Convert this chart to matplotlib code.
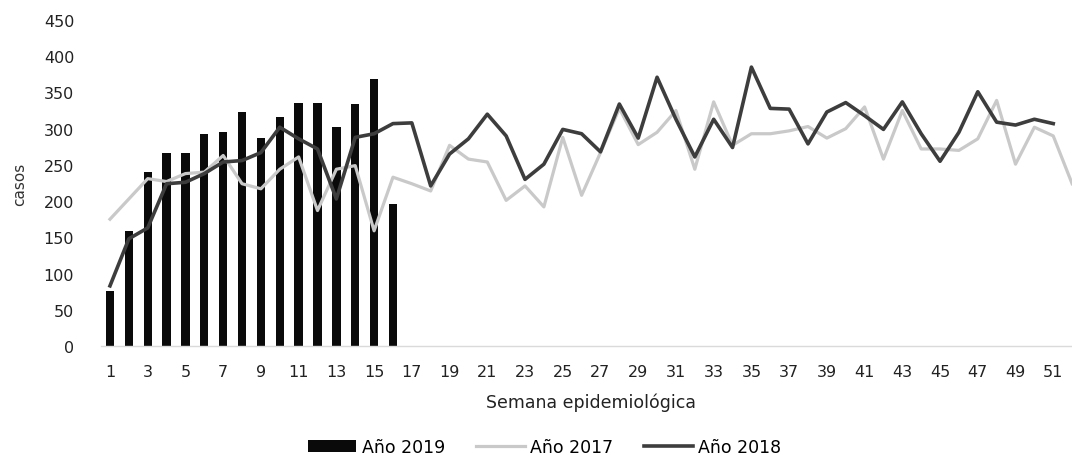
import numpy as np
import matplotlib
matplotlib.use("Agg")
import matplotlib.pyplot as plt

# semanas epidemiologicas
semanas_2019 = np.arange(1, 17)
semanas_2017 = np.arange(1, 53)
semanas_2018 = np.arange(1, 52)

casos_2019 = [76, 159, 240, 266, 266, 292, 296, 323, 287, 316, 336, 335, 303, 334, 368, 196]

casos_2017 = [175, 203, 231, 227, 238, 240, 263, 224, 217, 244, 261, 187, 244, 249, 159, 233,
              224, 214, 277, 258, 254, 201, 221, 192, 288, 208, 267, 328, 278, 295, 325, 244,
              337, 277, 293, 293, 297, 303, 287, 300, 330, 258, 325, 272, 272, 270, 286, 339,
              251, 302, 290, 224]

casos_2018 = [83, 148, 163, 224, 226, 238, 254, 256, 267, 302, 286, 272, 203, 288, 293, 307,
              308, 221, 265, 286, 320, 290, 230, 251, 299, 293, 268, 334, 287, 371, 313, 261,
              313, 274, 385, 328, 327, 279, 323, 336, 318, 299, 337, 293, 255, 295, 351, 309,
              305, 313, 307]

etiquetas_x = [str(s) for s in range(1, 52, 2)]

plt.rcParams['font.family'] = ['DejaVu Sans']

fig = plt.figure(figsize=(10.72, 4.60), dpi=100)
ax = fig.add_axes([0.0938, 0.2457, 0.9151, 0.7086])

barras = ax.bar(semanas_2019, casos_2019, width=0.44, color='#0a0a0a', label='Año 2019', zorder=1)
l17, = ax.plot(semanas_2017, casos_2017, color='#c9c9c9', lw=2.3, label='Año 2017', zorder=2)
l18, = ax.plot(semanas_2018, casos_2018, color='#3d3d3d', lw=2.6, label='Año 2018', zorder=3)

ax.set_xlim(0.5, 52.5)
ax.set_ylim(0, 450)
ax.set_yticks(range(0, 451, 50))
ax.set_xticks(range(1, 52, 2))
ax.set_xticklabels(etiquetas_x)

for s in ['top', 'right', 'left']:
    ax.spines[s].set_visible(False)
ax.spines['bottom'].set_color('#dadada')
ax.spines['bottom'].set_linewidth(1)

ax.tick_params(axis='both', length=0, labelsize=11.5, colors='#222222')
ax.tick_params(axis='x', pad=13)
ax.tick_params(axis='y', pad=19)

ax.set_xlabel('Semana epidemiológica', fontsize=12.5, color='#222222', labelpad=10)
ax.set_ylabel('casos', fontsize=11, color='#333333', labelpad=12)

fig.legend([barras, l17, l18], ['Año 2019', 'Año 2017', 'Año 2018'],
           loc='center', bbox_to_anchor=(0.508, 0.026), ncol=3, frameon=False,
           fontsize=12.5, handlelength=2.8, handletextpad=0.3, columnspacing=1.8)

fig.savefig('out.png', dpi=100)
